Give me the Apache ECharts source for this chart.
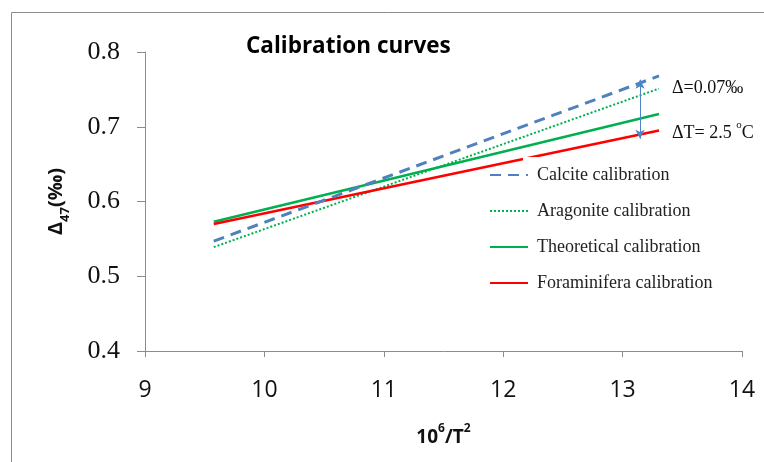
<!DOCTYPE html>
<html>
<head>
<meta charset="utf-8">
<script src="https://cdn.jsdelivr.net/npm/echarts@6/dist/echarts.min.js"></script>
<style>html,body{margin:0;padding:0;background:#fff}#c{width:764px;height:462px}</style>
</head>
<body>
<div id="c"></div>
<script>
// x = 10^6/T^2, y = Δ47 (‰)
const xEnds = [9.576, 13.305];
const calcite = [0.547, 0.768];
const aragonite = [0.539, 0.751];
const theoretical = [0.573, 0.717];
const foraminifera = [0.570, 0.695];
const seriesNames = ['Calcite calibration', 'Aragonite calibration', 'Theoretical calibration', 'Foraminifera calibration'];
const xTicks = [9, 10, 11, 12, 13, 14];
const yTicks = [0.4, 0.5, 0.6, 0.7, 0.8];
const arrowX = 13.146;
const arrowY = [0.763, 0.684];

const pts = v => xEnds.map((x, i) => [x, v[i]]);
const chart = echarts.init(document.getElementById('c'));
const serif = '"Liberation Serif", "DejaVu Serif", serif';
const sans = '"Open Sans", "Noto Sans", sans-serif';

chart.setOption({
  animation: false,
  backgroundColor: '#fff',
  title: {
    text: 'Calibration curves',
    left: 241, top: 30,
    textStyle: { fontFamily: sans, fontSize: 22.5, fontWeight: 'bold', color: '#000' }
  },
  grid: { left: 145, right: 22, top: 52, bottom: 111 },
  legend: {
    orient: 'vertical',
    left: 484, top: 161,
    itemWidth: 38, itemHeight: 14, itemGap: 18,
    itemStyle: { opacity: 0 },
    textStyle: { fontFamily: serif, fontSize: 18, color: '#222', lineHeight: 18, padding: [0, 0, 0, 4] },
    data: seriesNames,
    z: 20
  },
  xAxis: {
    type: 'value', min: 9, max: 14, interval: 1,
    axisLine: { lineStyle: { color: '#8c8c8c', width: 1 } },
    axisTick: { show: true, length: 6, lineStyle: { color: '#8c8c8c' } },
    splitLine: { show: false },
    axisLabel: { fontFamily: sans, fontSize: 23, color: '#111', margin: 28,
      formatter: v => xTicks.includes(v) ? String(v) : '' },
    name: '{b|10}{sup|6}{b|/T}{sup|2}',
    nameLocation: 'middle', nameGap: 72,
    nameTextStyle: {
      rich: {
        b: { fontFamily: sans, fontSize: 19, fontWeight: 'bold', color: '#111', verticalAlign: 'bottom', lineHeight: 24 },
        sup: { fontFamily: sans, fontSize: 12, fontWeight: 'bold', color: '#111', verticalAlign: 'top', lineHeight: 22 }
      }
    }
  },
  yAxis: {
    type: 'value', min: 0.4, max: 0.8, interval: 0.1,
    axisLine: { show: true, lineStyle: { color: '#8c8c8c', width: 1 } },
    axisTick: { show: true, length: 8, lineStyle: { color: '#8c8c8c' } },
    splitLine: { show: false },
    axisLabel: { fontFamily: serif, fontSize: 26, color: '#111', margin: 25,
      formatter: v => yTicks.some(t => Math.abs(t - v) < 1e-9) ? v.toFixed(1) : '' },
    name: '{b|Δ}{sub|47}{b|(‰)}',
    nameLocation: 'middle', nameGap: 73, nameRotate: 90,
    nameTextStyle: {
      rich: {
        b: { fontFamily: sans, fontSize: 20, fontWeight: 'bold', color: '#111', verticalAlign: 'top', lineHeight: 26 },
        sub: { fontFamily: sans, fontSize: 13, fontWeight: 'bold', color: '#111', verticalAlign: 'bottom', lineHeight: 26 }
      }
    }
  },
  graphic: [
    { type: 'rect', left: 9, top: 10, shape: { width: 800, height: 500 }, style: { fill: 'none', stroke: '#8c8c8c', lineWidth: 1 }, z: 0, silent: true },
    { type: 'rect', left: 523, top: 157, shape: { width: 200, height: 140 }, style: { fill: '#fff' }, z: 10, silent: true },
    { type: 'text', left: 672, top: 79, style: { text: 'Δ=0.07‰', font: '18px ' + serif, fill: '#111' }, z: 20 },
    { type: 'text', left: 672, top: 120, style: {
        text: '{n|ΔT= 2.5 }{s|o}{n|C}',
        rich: {
          n: { fontFamily: serif, fontSize: 18, fill: '#111', verticalAlign: 'bottom', lineHeight: 22 },
          s: { fontFamily: serif, fontSize: 11, fill: '#111', verticalAlign: 'top', lineHeight: 20 }
        } }, z: 20 }
  ],
  series: [
    { name: seriesNames[0], type: 'line', data: pts(calcite), showSymbol: false, symbol: 'none',
      lineStyle: { color: '#4f81bd', width: 3, type: [11, 7] }, itemStyle: { color: '#4f81bd' }, z: 4,
      markLine: {
        silent: true, symbol: ['arrow', 'arrow'], symbolSize: [7, 9],
        label: { show: false },
        lineStyle: { color: '#4a86c8', width: 1, type: 'solid' },
        data: [[{ coord: [arrowX, arrowY[0]] }, { coord: [arrowX, arrowY[1]] }]]
      } },
    { name: seriesNames[1], type: 'line', data: pts(aragonite), showSymbol: false, symbol: 'none',
      lineStyle: { color: '#00b050', width: 2, type: [2, 2] }, itemStyle: { color: '#00b050' }, z: 3 },
    { name: seriesNames[2], type: 'line', data: pts(theoretical), showSymbol: false, symbol: 'none',
      lineStyle: { color: '#00b050', width: 2.5 }, itemStyle: { color: '#00b050' }, z: 3 },
    { name: seriesNames[3], type: 'line', data: pts(foraminifera), showSymbol: false, symbol: 'none',
      lineStyle: { color: '#ff0000', width: 2.5 }, itemStyle: { color: '#ff0000' }, z: 3 }
  ]
});
</script>
</body>
</html>
